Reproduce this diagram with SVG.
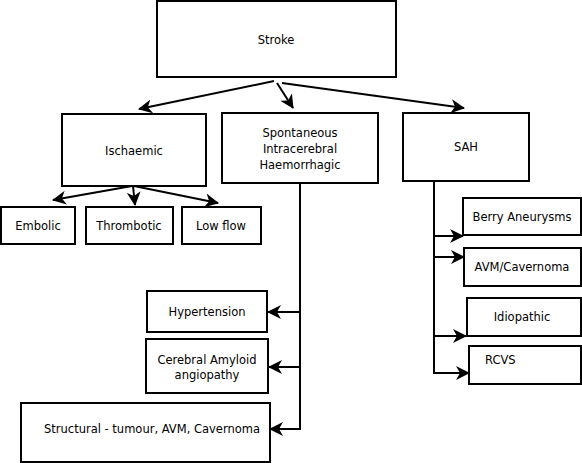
<svg xmlns="http://www.w3.org/2000/svg" width="582" height="463" viewBox="0 0 582 463">
<defs>
<style>
.box{fill:#fff;stroke:#000;stroke-width:2}
.t{font-family:"DejaVu Sans",Verdana,sans-serif;font-size:11.5px;fill:#000;text-anchor:middle}
.c{fill:none;stroke:#000;stroke-width:2}
</style>
<marker id="ah" markerUnits="userSpaceOnUse" markerWidth="14" markerHeight="14" refX="13" refY="7" orient="auto" viewBox="0 0 14 14">
<path d="M0,0 L14,7 L0,14 L4,7 z" fill="#000"/>
</marker>
</defs>
<rect width="582" height="463" fill="#fff"/>
<g id="connectors">
<path class="c" d="M274,81 L139,109" marker-end="url(#ah)"/>
<path class="c" d="M277,83 L293,108" marker-end="url(#ah)"/>
<path class="c" d="M282,83 L464,108" marker-end="url(#ah)"/>
<path class="c" d="M132,186 L53,200" marker-end="url(#ah)"/>
<path class="c" d="M133,186 L135,205" marker-end="url(#ah)"/>
<path class="c" d="M134,186 L218,203" marker-end="url(#ah)"/>
<path class="c" d="M300,183 V429 H270" marker-end="url(#ah)"/>
<path class="c" d="M300,312 H268" marker-end="url(#ah)"/>
<path class="c" d="M300,367 H269" marker-end="url(#ah)"/>
<path class="c" d="M434,181 V373 H469" marker-end="url(#ah)"/>
<path class="c" d="M434,236 H463" marker-end="url(#ah)"/>
<path class="c" d="M434,257 H464" marker-end="url(#ah)"/>
<path class="c" d="M434,336 H466" marker-end="url(#ah)"/>
</g>
<g id="stroke"><rect class="box" x="157" y="1" width="239" height="76"/><text class="t" x="276" y="44">Stroke</text></g>
<g id="ischaemic"><rect class="box" x="62" y="114" width="144" height="72"/><text class="t" x="134" y="155">Ischaemic</text></g>
<g id="spontaneous"><rect class="box" x="222" y="113" width="156" height="70"/><text class="t" x="300" y="137">Spontaneous</text><text class="t" x="300" y="153">Intracerebral</text><text class="t" x="300" y="169">Haemorrhagic</text></g>
<g id="sah"><rect class="box" x="403" y="113" width="126" height="68"/><text class="t" x="466" y="151">SAH</text></g>
<g id="embolic"><rect class="box" x="1" y="207" width="74" height="37"/><text class="t" x="38" y="230">Embolic</text></g>
<g id="thrombotic"><rect class="box" x="86" y="207" width="87" height="37"/><text class="t" x="129" y="230">Thrombotic</text></g>
<g id="lowflow"><rect class="box" x="182" y="207" width="79" height="37"/><text class="t" x="221" y="230">Low flow</text></g>
<g id="hypertension"><rect class="box" x="147" y="291" width="120" height="41"/><text class="t" x="207" y="316">Hypertension</text></g>
<g id="amyloid"><rect class="box" x="146" y="339" width="122" height="54"/><text class="t" x="207" y="364">Cerebral Amyloid</text><text class="t" x="207" y="379">angiopathy</text></g>
<g id="structural"><rect class="box" x="21" y="403" width="249" height="59"/><text class="t" x="152" y="433">Structural - tumour, AVM, Cavernoma</text></g>
<g id="berry"><rect class="box" x="463" y="198" width="118" height="37"/><text class="t" x="522" y="221">Berry Aneurysms</text></g>
<g id="avm"><rect class="box" x="464" y="248" width="117" height="38"/><text class="t" x="522" y="271">AVM/Cavernoma</text></g>
<g id="idiopathic"><rect class="box" x="467" y="298" width="114" height="38"/><text class="t" x="522" y="321">Idiopathic</text></g>
<g id="rcvs"><rect class="box" x="469" y="346" width="112" height="38"/><text class="t" x="485" y="364" style="text-anchor:start">RCVS</text></g>
</svg>
